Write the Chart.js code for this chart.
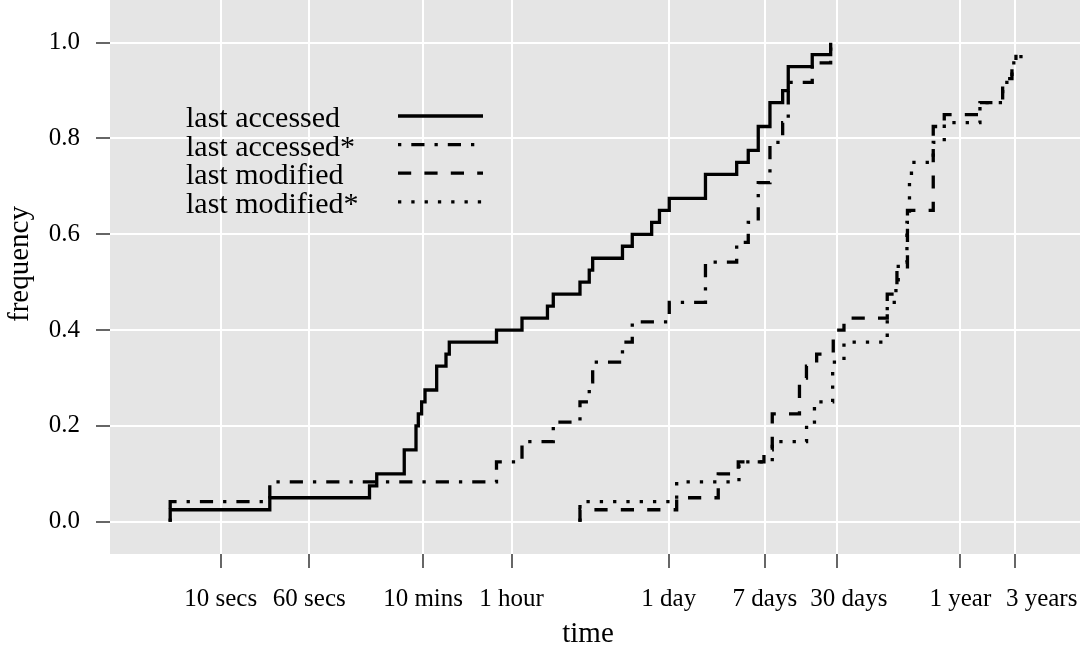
<!DOCTYPE html>
<html>
<head>
<meta charset="utf-8">
<title>last accessed / last modified</title>
<script src="https://cdn.jsdelivr.net/npm/chart.js@4.4.1/dist/chart.umd.min.js"></script>
<style>
  body { margin: 0; background: #fff; }
  canvas { display: block; }
</style>
</head>
<body>
<canvas id="chart" width="1086" height="650"></canvas>
<script>
// times are in seconds, frequencies are cumulative
const accessedTimes = [3.6, 3.6, 27, 203, 235, 410, 520, 545, 583, 624, 790, 954, 1020, 2650, 4440, 7430, 8360,
  14350, 17310, 18550, 33900, 41330, 61180, 71640, 87360, 181700, 341700, 431900, 528700, 669900, 866200,
  970100, 1576000, 2288000];
const accessedFreq = [0, 0.025, 0.05, 0.075, 0.1, 0.15, 0.2, 0.225, 0.25, 0.275, 0.325, 0.35, 0.375, 0.4, 0.425,
  0.45, 0.475, 0.5, 0.525, 0.55, 0.575, 0.6, 0.625, 0.65, 0.675, 0.725, 0.75, 0.775, 0.825, 0.875, 0.9,
  0.95, 0.975, 1.0];

const accessedStarTimes = [3.6, 3.6, 27, 2650, 4440, 8360, 14350, 17310, 18550, 33900, 41330, 87360, 181700,
  341700, 431900, 528700, 669900, 866200, 970100, 1576000, 2288000];
const accessedStarFreq = [0, 0.042, 0.083, 0.125, 0.167, 0.208, 0.25, 0.292, 0.333, 0.375, 0.417, 0.458, 0.542,
  0.583, 0.625, 0.708, 0.792, 0.833, 0.917, 0.958, 1.0];

const modifiedTimes = [14350, 14350, 101500, 235300, 352800, 593300, 702000, 1217000, 1402000, 1723000, 2411000,
  2995000, 7188000, 8746000, 10820000, 18230000, 22780000, 46900000, 74230000, 89600000, 97140000];
const modifiedFreq = [0, 0.025, 0.05, 0.1, 0.125, 0.15, 0.225, 0.3, 0.325, 0.35, 0.4, 0.425, 0.475, 0.525, 0.65,
  0.825, 0.85, 0.875, 0.925, 0.95, 0.975];

const modifiedStarTimes = [14350, 14350, 101500, 357900, 702000, 1405000, 1648000, 2382000, 2995000, 7188000,
  8570000, 8980000, 10710000, 11270000, 11730000, 18230000, 22780000, 46900000, 74230000, 89600000, 107500000];
const modifiedStarFreq = [0, 0.042, 0.083, 0.125, 0.167, 0.208, 0.25, 0.333, 0.375, 0.458, 0.5, 0.542, 0.625,
  0.708, 0.75, 0.792, 0.833, 0.875, 0.917, 0.958, 0.98];

const seriesNames = ['last accessed', 'last accessed*', 'last modified', 'last modified*'];

const timeTicks = [10, 60, 600, 3600, 86400, 604800, 2592000, 31536000, 94608000];
const timeLabels = ['10 secs', '60 secs', '10 mins', '1 hour', '1 day', '7 days', '30 days', '1 year', '3 years'];
const freqTicks = [0, 0.2, 0.4, 0.6, 0.8, 1.0];

// sideways shift of some time labels so neighbours don't collide
const labelNudge = [0, 0, 0, 0, 0, 0, 12, 0, 27];

const SERIF = '"Liberation Serif", "DejaVu Serif", serif';

// R style line types: solid, dotdash, dashed, dotted
const lineDashes = [[], [3.3, 10, 13.2, 10], [13.2, 13.2], [3.3, 10]];

function pairs(xs, ys) {
  return xs.map((x, i) => ({ x: x, y: ys[i] }));
}

const seriesData = [
  pairs(accessedTimes, accessedFreq),
  pairs(accessedStarTimes, accessedStarFreq),
  pairs(modifiedTimes, modifiedFreq),
  pairs(modifiedStarTimes, modifiedStarFreq)
];

const datasets = seriesData.map((d, i) => ({
  label: seriesNames[i],
  data: d,
  stepped: true,
  borderColor: '#000',
  borderWidth: 3.3,
  borderDash: lineDashes[i],
  borderCapStyle: 'butt',
  fill: false,
  pointRadius: 0
}));

// grey panel behind the grid
const panelBg = {
  id: 'panelBg',
  beforeDraw(chart) {
    const { ctx, chartArea: a } = chart;
    ctx.save();
    ctx.fillStyle = '#e5e5e5';
    ctx.fillRect(a.left, a.top, a.right - a.left, a.bottom - a.top);
    ctx.restore();
  }
};

// key inside the panel, time labels and axis titles
const keyAndTitles = {
  id: 'keyAndTitles',
  afterDraw(chart) {
    const ctx = chart.ctx;
    ctx.save();
    ctx.fillStyle = '#000';
    ctx.font = '30px ' + SERIF;
    ctx.textAlign = 'left';
    ctx.textBaseline = 'alphabetic';
    chart.data.datasets.forEach((ds, i) => {
      const y = 116 + i * 28.6;
      ctx.fillText(ds.label, 186, y + 11);
      ctx.beginPath();
      ctx.setLineDash(ds.borderDash);
      ctx.lineWidth = ds.borderWidth;
      ctx.strokeStyle = ds.borderColor;
      ctx.lineCap = 'butt';
      ctx.moveTo(398, y);
      ctx.lineTo(483, y);
      ctx.stroke();
    });
    ctx.setLineDash([]);

    const xs = chart.scales.x;
    ctx.font = '25px ' + SERIF;
    ctx.textAlign = 'center';
    timeTicks.forEach((v, i) => {
      ctx.fillText(timeLabels[i], xs.getPixelForValue(v) + labelNudge[i], 606);
    });

    ctx.font = '29px ' + SERIF;
    ctx.fillText('time', 588, 642);
    ctx.translate(28, 264);
    ctx.rotate(-Math.PI / 2);
    ctx.fillText('frequency', 0, 0);
    ctx.restore();
  }
};

new Chart(document.getElementById('chart'), {
  type: 'line',
  data: { datasets: datasets },
  plugins: [panelBg, keyAndTitles],
  options: {
    responsive: false,
    animation: false,
    devicePixelRatio: 1,
    layout: { padding: { top: 0, right: 6, bottom: 0, left: 0 } },
    plugins: { legend: { display: false }, tooltip: { enabled: false } },
    elements: { line: { tension: 0 } },
    scales: {
      x: {
        type: 'logarithmic',
        min: 1.065,
        max: 3.55e8,
        afterBuildTicks: s => { s.ticks = timeTicks.map(v => ({ value: v })); },
        afterFit: s => { s.height = 96; s.paddingLeft = 0; s.paddingRight = 0; },
        border: { display: false },
        grid: { color: '#fff', lineWidth: 2, tickColor: '#000', tickWidth: 1.2, tickLength: 14 },
        ticks: { display: false, autoSkip: false, maxRotation: 0 }
      },
      y: {
        type: 'linear',
        min: -0.0674,
        max: 1.0891,
        afterBuildTicks: s => { s.ticks = freqTicks.map(v => ({ value: v })); },
        afterFit: s => { s.width = 110; s.paddingTop = 0; s.paddingBottom = 0; },
        border: { display: false },
        grid: { color: '#fff', lineWidth: 2, tickColor: '#000', tickWidth: 1.2, tickLength: 14 },
        ticks: {
          padding: 16,
          color: '#000',
          font: { family: SERIF, size: 25 },
          callback: v => v.toFixed(1)
        }
      }
    }
  }
});
</script>
</body>
</html>
